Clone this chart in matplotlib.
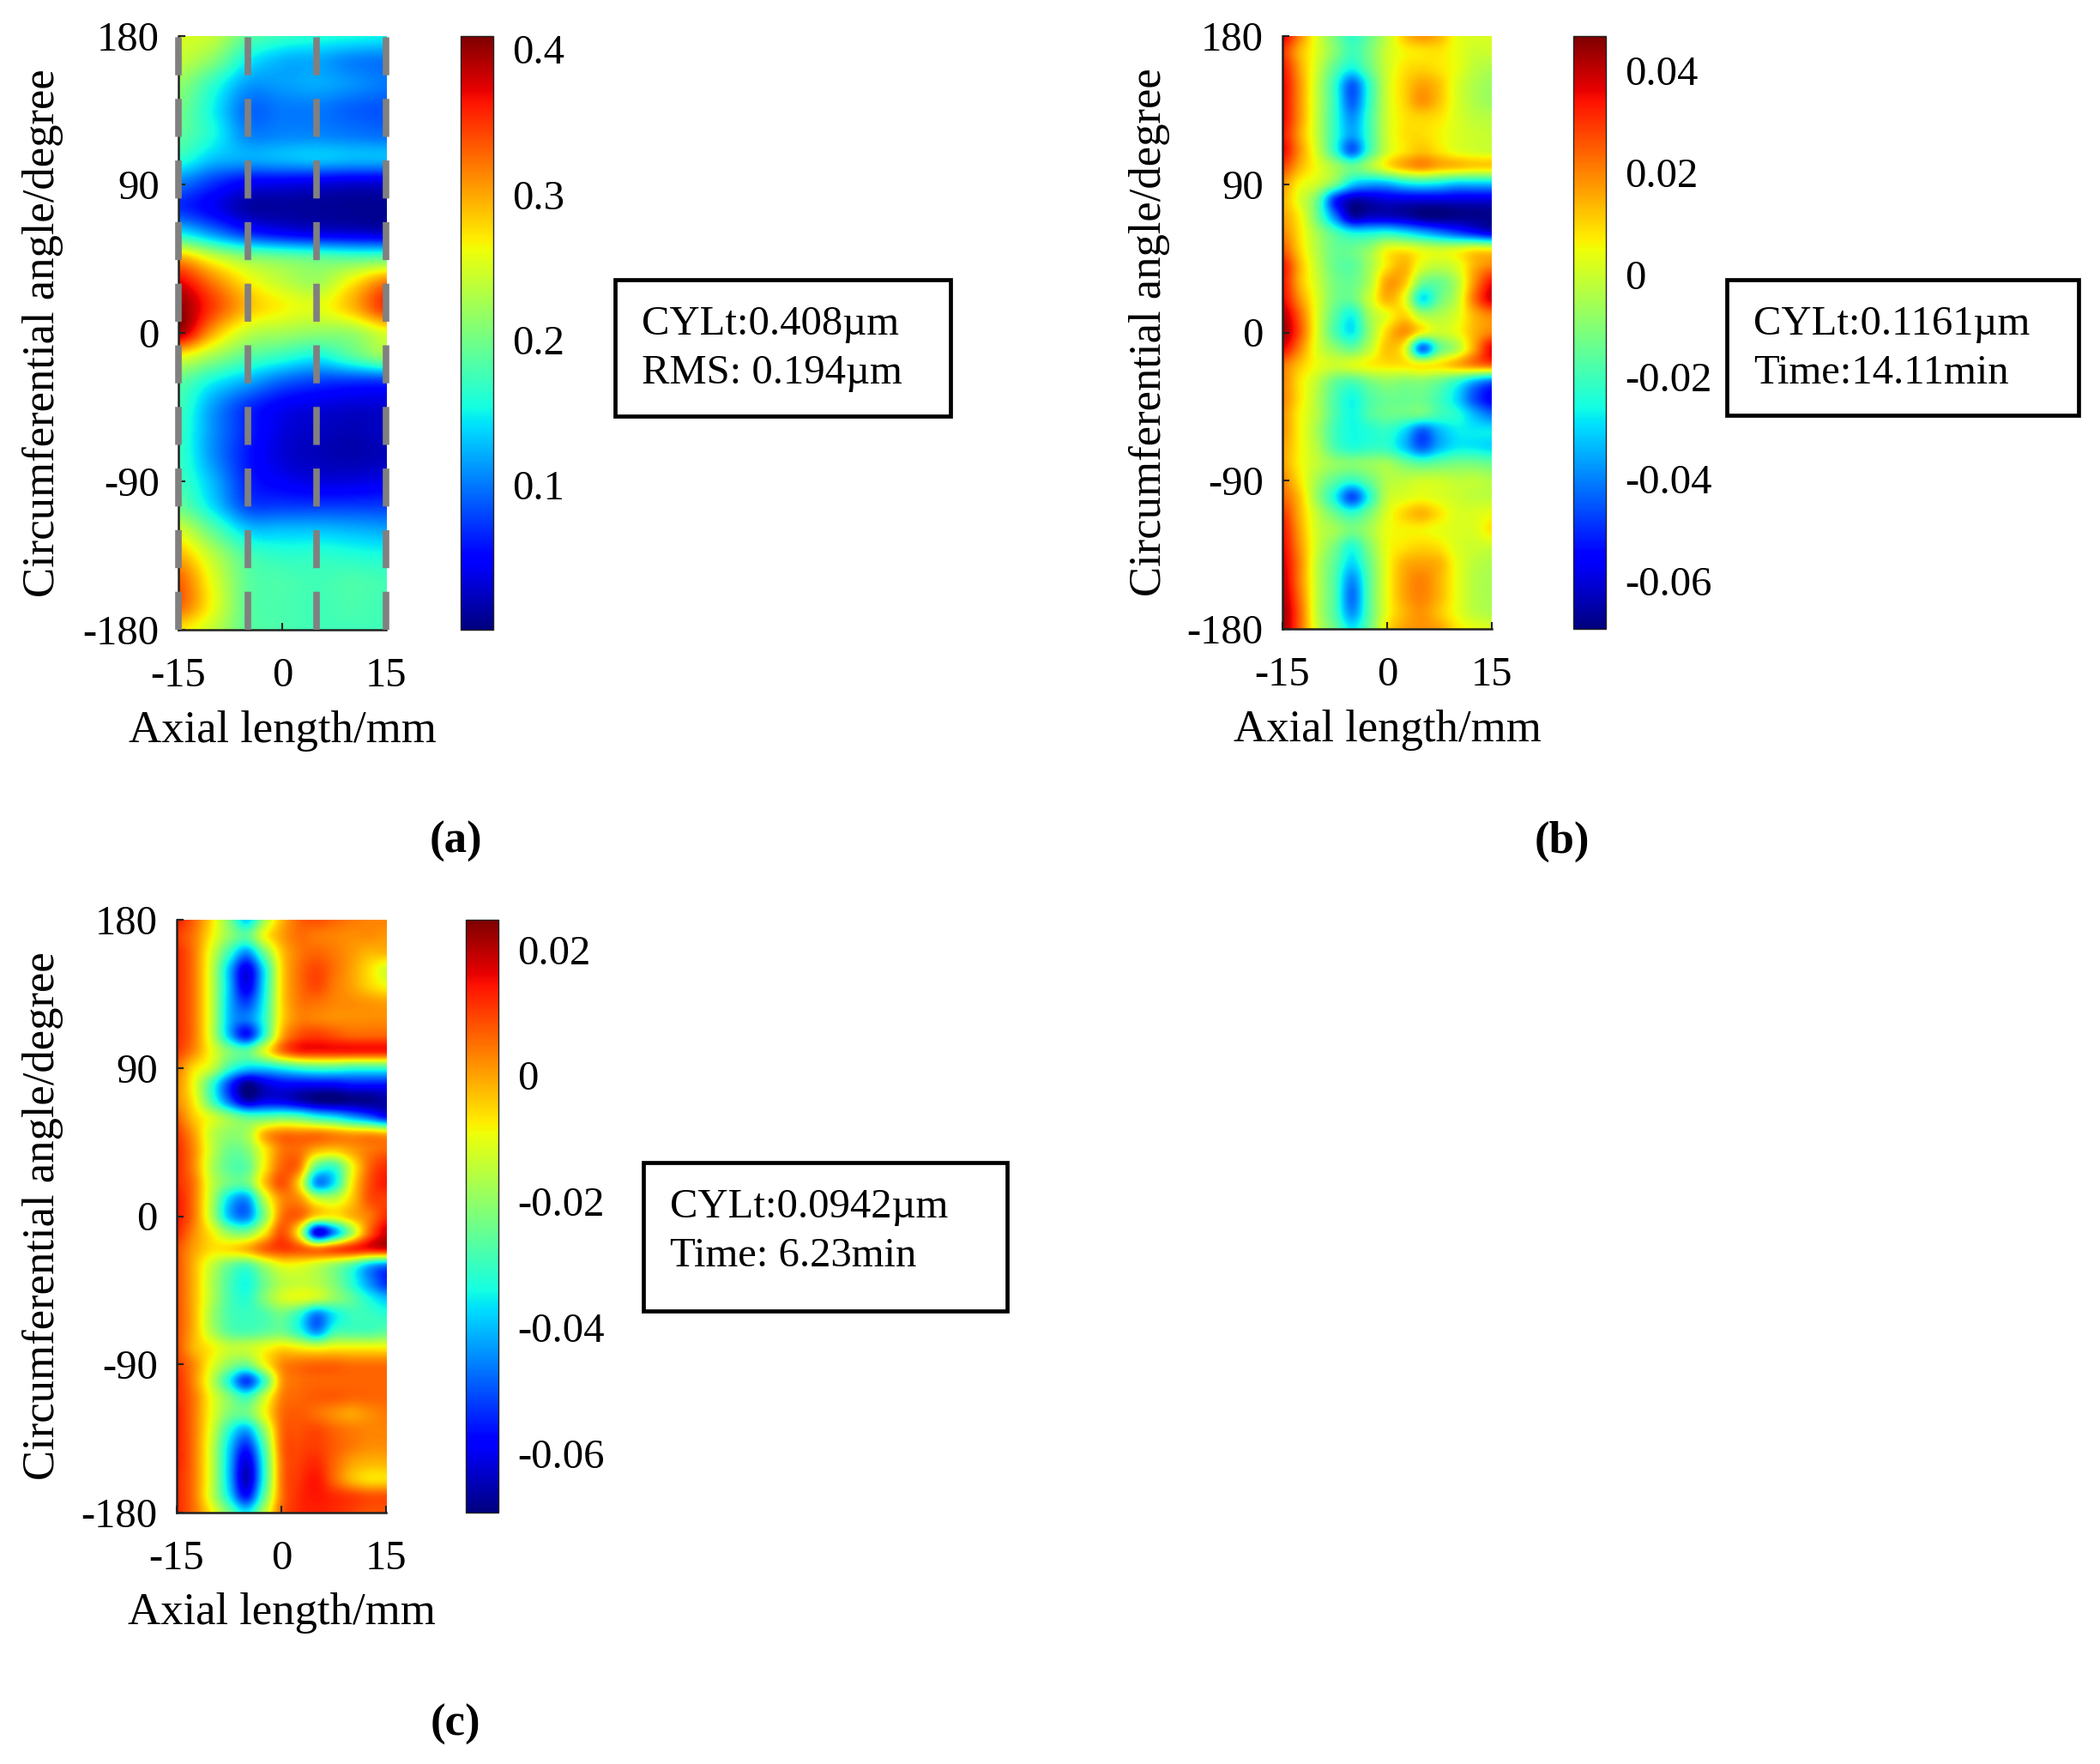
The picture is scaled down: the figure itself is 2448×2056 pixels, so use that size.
import numpy as np
import matplotlib
matplotlib.use("Agg")
import matplotlib.pyplot as plt
from matplotlib.patches import Rectangle

plt.rcParams['font.family'] = ['Liberation Serif', 'DejaVu Serif']

W, H = 2448, 2056
FS = 35
FS_LABEL = 38

axial_a = [-15, -10, -5, 0, 5, 10, 15]
angles_a = list(range(180, -181, -15))
values_a = [
    [250, 240, 190, 170, 160, 155, 150],
    [240, 210, 150, 125, 120, 105, 100],
    [215, 165, 115, 115, 120, 110, 100],
    [200, 150, 95, 100, 100, 90, 85],
    [190, 155, 105, 105, 105, 100, 95],
    [165, 130, 120, 125, 130, 125, 125],
    [100, 70, 45, 40, 35, 30, 30],
    [70, 45, 15, 12, 10, 8, 8],
    [150, 110, 70, 50, 40, 35, 30],
    [300, 250, 215, 200, 190, 185, 190],
    [375, 320, 270, 240, 225, 270, 320],
    [405, 345, 290, 265, 255, 290, 350],
    [395, 300, 240, 225, 215, 220, 255],
    [260, 220, 185, 165, 150, 180, 215],
    [190, 150, 120, 90, 75, 70, 70],
    [175, 115, 70, 45, 35, 30, 30],
    [170, 110, 65, 35, 25, 20, 25],
    [170, 110, 60, 32, 22, 18, 22],
    [175, 125, 65, 45, 35, 35, 40],
    [195, 140, 80, 75, 75, 75, 75],
    [250, 190, 135, 130, 130, 125, 120],
    [295, 235, 180, 165, 165, 160, 155],
    [330, 255, 190, 180, 175, 180, 175],
    [330, 260, 190, 180, 175, 180, 175],
    [275, 240, 190, 180, 175, 175, 175],
]

axial_bc = [-15, -12.5, -10, -7.5, -5, -2.5, 0, 2.5, 5, 7.5, 10, 12.5, 15]
angles_bc = list(range(180, -181, -10))
values_b = [
    [38, 20, 2, -12, -22, -14, -2, 12, 18, 14, 4, 2, 2],
    [30, 14, 2, -10, -20, -12, 0, 6, 8, 8, 4, 0, 0],
    [34, 16, 0, -16, -26, -14, 0, 8, 10, 8, 4, -2, -4],
    [36, 18, -2, -22, -44, -22, 0, 10, 16, 12, 2, -4, -7],
    [36, 18, -2, -22, -44, -22, 0, 10, 18, 12, 2, -4, -7],
    [36, 18, -2, -22, -38, -20, 0, 8, 10, 8, 2, -2, -3],
    [34, 16, -2, -22, -36, -20, 0, 8, 9, 6, 2, 0, -1],
    [36, 18, 0, -22, -44, -20, 0, 8, 12, 8, 3, 1, 0],
    [28, 14, 4, -6, -14, -6, 6, 14, 18, 14, 12, 10, 10],
    [18, 6, 0, -12, -30, -35, -34, -28, -26, -28, -32, -32, -32],
    [14, 2, -14, -50, -64, -63, -60, -60, -60, -60, -60, -60, -60],
    [16, 6, -14, -40, -64, -62, -62, -64, -68, -69, -68, -68, -68],
    [20, 8, -6, -18, -26, -26, -24, -28, -34, -40, -46, -52, -58],
    [26, 10, -4, -14, -14, -8, 4, 6, 2, 0, 2, 6, 6],
    [34, 14, -2, -14, -16, -6, 8, 14, 2, -2, 2, 14, 20],
    [34, 14, 0, -12, -14, -4, 16, 12, -12, -14, -4, 18, 34],
    [36, 18, 2, -12, -14, 0, 14, 4, -28, -14, -2, 22, 38],
    [42, 24, 2, -16, -26, -6, 4, 10, -4, -4, 2, 14, 20],
    [44, 26, 2, -18, -28, -8, 10, 18, 6, 0, 4, 14, 20],
    [36, 20, 2, -8, -14, -2, 12, 4, -42, -16, -4, 16, 36],
    [22, 12, 4, 0, 2, 6, 8, 8, 6, 8, 14, 20, 24],
    [20, 8, -2, -14, -18, -12, -8, -10, -10, -14, -22, -34, -42],
    [20, 8, -4, -18, -26, -18, -14, -14, -14, -20, -30, -46, -56],
    [18, 6, -4, -18, -26, -18, -14, -14, -14, -20, -24, -34, -42],
    [18, 6, -6, -20, -26, -24, -22, -30, -44, -34, -28, -28, -28],
    [16, 6, -4, -18, -24, -22, -22, -32, -44, -34, -28, -28, -30],
    [16, 6, -2, -8, -10, -8, -6, -12, -16, -14, -12, -12, -14],
    [20, 8, -6, -16, -22, -14, -4, -2, 0, 0, -2, -2, -4],
    [24, 12, -8, -26, -46, -24, -2, 2, 4, 2, 0, -2, -2],
    [30, 14, -2, -14, -22, -12, 2, 10, 14, 8, 2, 2, 4],
    [34, 16, 0, -6, -12, -6, 4, 6, 6, 4, 2, 2, 8],
    [36, 18, 0, -12, -24, -10, 4, 8, 10, 8, 2, 0, 0],
    [38, 20, -2, -16, -30, -14, 4, 14, 16, 14, 4, -2, -4],
    [40, 20, -2, -18, -38, -16, 4, 16, 20, 14, 4, -3, -5],
    [42, 22, -2, -18, -42, -16, 4, 16, 20, 14, 4, -3, -5],
    [44, 24, -2, -18, -38, -16, 4, 14, 18, 12, 4, -2, -4],
    [44, 24, 0, -14, -28, -14, 8, 16, 18, 16, 8, 4, 2],
]
values_c = [
    [13, 6, -6, -22, -38, -18, -2, 6, 8, 6, 4, 3, 3],
    [10, 4, -8, -20, -26, -10, 0, 5, 4, 3, 2, 2, 1],
    [12, 4, -12, -30, -44, -24, -4, 4, 6, 4, 1, -2, -2],
    [12, 4, -14, -40, -60, -36, -6, 5, 9, 5, 0, -6, -12],
    [12, 4, -14, -40, -60, -36, -6, 5, 9, 4, 0, -5, -9],
    [12, 4, -14, -40, -52, -34, -6, 4, 5, 3, 2, 1, 0],
    [12, 4, -14, -40, -46, -32, -6, 3, 3, 2, 2, 2, 2],
    [12, 4, -14, -40, -56, -32, -2, 8, 10, 8, 6, 6, 6],
    [10, 2, -10, -22, -26, -12, 4, 12, 13, 13, 13, 13, 13],
    [4, -6, -14, -30, -38, -38, -34, -30, -28, -28, -30, -30, -30],
    [2, -10, -30, -52, -68, -62, -58, -58, -58, -58, -56, -56, -56],
    [2, -8, -28, -48, -64, -60, -60, -64, -68, -69, -68, -68, -66],
    [6, -4, -12, -20, -26, -26, -24, -26, -32, -36, -42, -48, -56],
    [10, 0, -14, -20, -18, -2, 4, 4, 4, 2, 0, 0, -2],
    [12, 2, -14, -24, -22, -8, 4, 5, -2, -4, 0, 4, 6],
    [12, 2, -16, -26, -26, -8, 6, 4, -26, -30, -10, 6, 12],
    [12, 4, -14, -24, -24, -4, 8, -6, -44, -36, -8, 8, 14],
    [14, 4, -16, -38, -44, -16, 2, 2, -12, -14, -4, 8, 10],
    [14, 4, -16, -40, -46, -22, 4, 6, -6, -8, -2, 4, 12],
    [12, 2, -8, -20, -22, -8, 8, -10, -60, -44, -18, 6, 18],
    [8, 0, -6, -6, -2, 6, 10, 8, 4, 8, 12, 14, 16],
    [8, -2, -14, -24, -28, -18, -10, -10, -14, -20, -28, -40, -46],
    [8, -2, -16, -28, -34, -24, -16, -14, -16, -22, -32, -44, -54],
    [8, -2, -16, -28, -32, -22, -13, -11, -14, -20, -26, -34, -40],
    [8, -2, -18, -28, -30, -28, -24, -32, -46, -36, -30, -30, -32],
    [8, -2, -16, -26, -28, -26, -24, -32, -44, -30, -28, -28, -26],
    [8, -2, -8, -14, -14, -10, -6, -8, -10, -8, -8, -8, -8],
    [10, 2, -10, -20, -24, -10, 2, 5, 6, 6, 5, 5, 5],
    [12, 2, -14, -34, -52, -30, 0, 5, 6, 6, 6, 6, 6],
    [12, 4, -10, -22, -30, -14, 3, 6, 7, 7, 6, 6, 6],
    [13, 4, -10, -22, -24, -10, 5, 7, 5, 2, 0, 2, 4],
    [13, 4, -12, -32, -42, -20, 5, 8, 9, 6, 4, 3, 3],
    [13, 4, -14, -38, -54, -28, 5, 9, 10, 7, 4, 2, 2],
    [13, 4, -14, -40, -62, -32, 4, 10, 12, 6, 0, -2, -2],
    [12, 4, -14, -40, -64, -32, 4, 11, 14, 6, -2, -6, -6],
    [12, 4, -14, -36, -56, -26, 4, 12, 14, 12, 10, 8, 8],
    [12, 5, -8, -24, -36, -16, 6, 12, 13, 12, 10, 8, 8],
]

x_ticks = [-15, 0, 15]
y_ticks = [180, 90, 0, -90, -180]
x_tick_labels = ['-15', '0', '15']
y_tick_labels = ['180', '90', '0', '-90', '-180']
x_label = 'Axial length/mm'
y_label = 'Circumferential angle/degree'

cbar_ticks_a = [0.1, 0.2, 0.3, 0.4]
cbar_labels_a = ['0.1', '0.2', '0.3', '0.4']
cbar_ticks_b = [-0.06, -0.04, -0.02, 0, 0.02, 0.04]
cbar_labels_b = ['-0.06', '-0.04', '-0.02', '0', '0.02', '0.04']
cbar_ticks_c = [-0.06, -0.04, -0.02, 0, 0.02]
cbar_labels_c = ['-0.06', '-0.04', '-0.02', '0', '0.02']

dash_positions = [-15, -5, 5, 15]
info_a = ['CYLt:0.408µm', 'RMS: 0.194µm']
info_b = ['CYLt:0.1161µm', 'Time:14.11min']
info_c = ['CYLt:0.0942µm', 'Time: 6.23min']

fig = plt.figure(figsize=(W / 100, H / 100), dpi=100)


def box(l, t, r, b):
    return [l / W, 1 - b / H, (r - l) / W, (b - t) / H]


def panel(ax_px, cb_px, x, y, z, scale, clim, cticks, clabels, tag, tag_xy, info, rect, text_x, text_ys,
          ylab_x, xlab_y, dashes=False):
    ax = fig.add_axes(box(*ax_px))
    z = np.array(z) * scale
    dx = abs(x[1] - x[0]) / 2
    dy = abs(y[1] - y[0]) / 2
    im = ax.imshow(z, cmap='jet', vmin=clim[0], vmax=clim[1], aspect='auto', interpolation='catrom',
                   extent=(x[0] - dx, x[-1] + dx, y[-1] - dy, y[0] + dy), origin='upper')
    ax.set_xlim(-15, 15)
    ax.set_ylim(-180, 180)
    ax.set_xticks(x_ticks, x_tick_labels)
    ax.set_yticks(y_ticks, y_tick_labels)
    ax.tick_params(direction='in', length=6, width=1.5, labelsize=FS, color='#222222')
    ax.tick_params(axis='x', pad=23)
    ax.tick_params(axis='y', pad=16)
    ax.spines['top'].set_visible(False)
    ax.spines['right'].set_visible(False)
    for s in ('left', 'bottom'):
        ax.spines[s].set_linewidth(1.8)
        ax.spines[s].set_color('#222222')
    if dashes:
        for d in dash_positions:
            ax.axvline(d, color='#808080', lw=5.5, dashes=(5.8, 3.6), clip_on=False, zorder=5)
    cx = (ax_px[0] + ax_px[2]) / 2
    fig.text(cx / W, 1 - xlab_y / H, x_label, fontsize=FS_LABEL, ha='center', va='center')
    fig.text(ylab_x / W, 1 - (ax_px[1] + ax_px[3]) / 2 / H, y_label, fontsize=FS_LABEL, rotation=90,
             ha='center', va='center')

    cax = fig.add_axes(box(*cb_px))
    cb = fig.colorbar(im, cax=cax)
    cb.set_ticks(cticks, labels=clabels)
    cax.tick_params(direction='in', length=0, labelsize=FS, pad=16)
    cb.outline.set_linewidth(1.0)
    cb.outline.set_edgecolor('#222222')

    fig.text(tag_xy[0] / W, 1 - tag_xy[1] / H, tag, fontsize=FS + 3, fontweight='bold', ha='center', va='center')

    l, t, r, b = rect
    fig.add_artist(Rectangle((l / W, 1 - b / H), (r - l) / W, (b - t) / H, transform=fig.transFigure,
                             facecolor='white', edgecolor='black', lw=3.4))
    for line, yy in zip(info, text_ys):
        fig.text(text_x / W, 1 - yy / H, line, fontsize=FS, ha='left', va='center')


panel((208, 42, 450, 734), (537, 42, 575, 734), axial_a, angles_a, values_a, 0.001, (0.0003, 0.409),
      cbar_ticks_a, cbar_labels_a, '(a)', (531, 981), info_a, (717, 326, 1108, 485), 748, (378, 435),
      50, 852, dashes=True)
panel((1495, 42, 1739, 733), (1834, 42, 1872, 733), axial_bc, angles_bc, values_b, 0.001, (-0.0695, 0.0468),
      cbar_ticks_b, cbar_labels_b, '(b)', (1821, 981), info_b, (2013, 326, 2423, 484), 2044, (378, 435),
      1340, 851)
panel((206, 1072, 450, 1763), (543, 1072, 581, 1763), axial_bc, angles_bc, values_c, 0.001, (-0.0694, 0.0247),
      cbar_ticks_c, cbar_labels_c, '(c)', (531, 2010), info_c, (750, 1355, 1174, 1528), 781, (1407, 1464),
      50, 1880)

fig.savefig('out.png', dpi=100, facecolor='white')
